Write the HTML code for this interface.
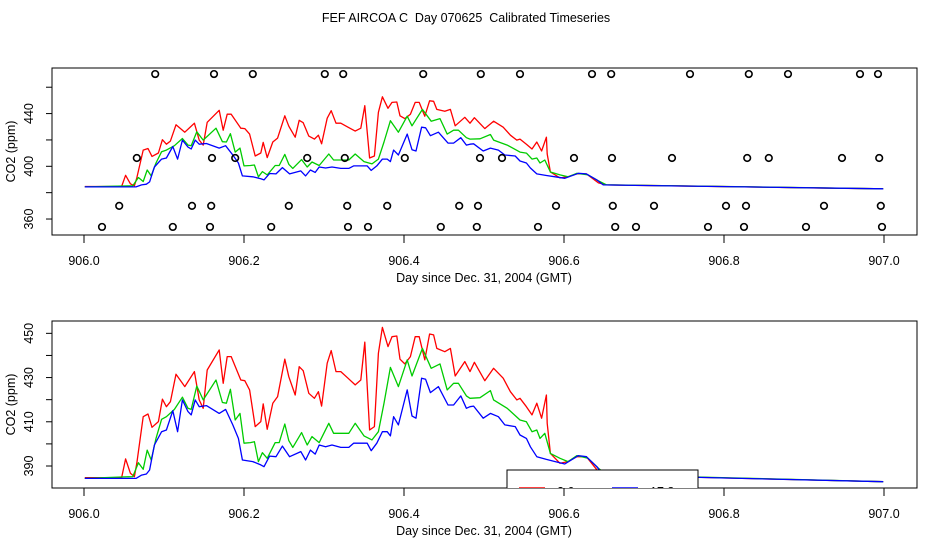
<!DOCTYPE html>
<html><head><meta charset="utf-8">
<style>
html,body{margin:0;padding:0;background:#fff;}
svg{display:block;font-family:"Liberation Sans",sans-serif;}
</style></head>
<body>
<svg id="chart" width="936" height="540" viewBox="0 0 936 540" xmlns="http://www.w3.org/2000/svg">
<text x="466" y="22" font-size="12.5" text-anchor="middle" style="white-space:pre" xml:space="preserve">FEF AIRCOA C  Day 070625  Calibrated Timeseries</text>
<g id="top"></g>
<g id="bot"></g>
</svg>
<script>
const redDays=[0.001,0.047,0.052,0.058,0.063,0.066,0.074,0.080,0.085,0.093,0.098,0.103,0.108,0.115,0.126,0.138,0.144,0.149,0.154,0.169,0.174,0.179,0.184,0.196,0.201,0.207,0.214,0.221,0.224,0.229,0.236,0.242,0.251,0.256,0.264,0.269,0.274,0.281,0.288,0.293,0.297,0.304,0.309,0.315,0.321,0.330,0.339,0.346,0.351,0.357,0.363,0.368,0.373,0.380,0.385,0.391,0.395,0.401,0.408,0.414,0.419,0.426,0.432,0.437,0.441,0.451,0.458,0.464,0.476,0.4825,0.488,0.501,0.512,0.524,0.533,0.541,0.545,0.553,0.560,0.566,0.572,0.578,0.579,0.583,0.595,0.605,0.616,0.628,0.643,0.653,0.778,0.903,0.999];
const redPpm=[384.7,384.7,393.2,386.7,385.2,391.2,412.3,413.5,407.5,410.1,420.2,416.8,419.1,431.5,425.9,432.7,419.9,416.1,433.4,442.5,427.4,439.5,439.5,428.9,428.6,424.4,407.8,410.1,418.1,406.6,418.4,421.4,438.3,430.4,422.1,434.9,433.1,422.9,420.6,423.6,417.1,436.5,442.2,432.7,432.7,429.7,426.7,428.9,446.0,406.3,407.8,441.0,452.7,444.0,448.5,448.8,438.3,436.2,439.5,448.5,448.5,438.0,449.7,449.3,443.2,441.7,443.2,430.7,437.2,432.7,436.9,428.6,434.2,429.7,423.6,419.9,420.6,416.8,413.1,418.4,411.6,422.1,409.3,395.7,391.2,392.0,394.2,394.2,387.4,385.9,384.8,383.7,382.9];
const greenDays=[0.001,0.061,0.068,0.074,0.079,0.084,0.090,0.097,0.103,0.113,0.123,0.130,0.134,0.141,0.149,0.165,0.173,0.178,0.183,0.189,0.195,0.200,0.208,0.213,0.218,0.223,0.229,0.239,0.244,0.251,0.256,0.261,0.272,0.279,0.285,0.294,0.306,0.312,0.331,0.339,0.350,0.360,0.368,0.375,0.383,0.393,0.404,0.410,0.423,0.434,0.445,0.454,0.462,0.468,0.478,0.4825,0.495,0.508,0.512,0.529,0.545,0.553,0.560,0.566,0.570,0.576,0.583,0.595,0.605,0.616,0.630,0.643,0.653,0.999];
const greenPpm=[384.4,385.2,391.5,388.5,397.2,392.7,402.5,411.1,412.3,415.6,421.1,416.1,415.6,426.2,419.9,428.9,418.7,418.4,424.7,410.8,413.8,400.3,400.6,401.0,392.0,396.0,393.5,400.6,400.6,409.0,401.5,398.4,405.1,399.5,403.3,400.6,409.3,404.8,404.8,409.3,403.6,401.8,405.5,418.4,434.6,425.9,438.0,430.7,443.2,434.2,436.2,424.4,427.4,427.4,421.7,420.6,420.9,424.1,419.9,416.1,410.8,410.0,405.5,406.3,402.5,404.8,395.7,393.5,392.0,394.7,393.5,389.0,386.0,382.9];
const blueDays=[0.001,0.065,0.072,0.078,0.082,0.088,0.097,0.103,0.111,0.117,0.123,0.130,0.134,0.139,0.144,0.153,0.169,0.177,0.186,0.193,0.198,0.211,0.221,0.225,0.232,0.240,0.248,0.257,0.271,0.277,0.283,0.289,0.294,0.302,0.310,0.321,0.331,0.337,0.354,0.359,0.366,0.373,0.379,0.383,0.387,0.393,0.404,0.410,0.415,0.422,0.427,0.433,0.443,0.455,0.462,0.471,0.478,0.4825,0.487,0.499,0.508,0.518,0.526,0.539,0.545,0.553,0.558,0.566,0.578,0.589,0.601,0.618,0.628,0.641,0.649,0.999];
const bluePpm=[384.4,384.4,385.9,386.4,388.2,399.5,405.5,406.3,415.0,405.5,419.9,414.6,413.1,419.9,416.8,417.3,413.8,415.6,408.6,402.5,392.7,392.0,390.5,389.7,394.5,394.2,399.0,394.2,396.5,392.7,397.2,395.4,399.5,398.7,399.5,398.4,398.4,400.3,400.3,396.9,400.3,405.5,405.5,403.6,412.3,408.6,424.4,412.6,411.6,429.7,429.2,423.2,425.9,417.6,417.6,421.7,416.1,416.8,417.1,411.6,413.8,412.3,408.6,407.8,404.0,402.5,398.7,394.2,393.0,392.0,390.9,394.7,394.2,389.7,385.9,382.9];
const circleRow1=[0.089,0.1625,0.211,0.301,0.324,0.424,0.496,0.545,0.635,0.659,0.7575,0.831,0.88,0.97,0.9925];
const circleRow2=[0.066,0.16,0.189,0.279,0.326,0.401,0.495,0.5225,0.6125,0.66,0.735,0.829,0.856,0.9475,0.994];
const circleRow3=[0.044,0.135,0.159,0.256,0.329,0.379,0.469,0.4925,0.59,0.661,0.7125,0.8025,0.8275,0.925,0.996];
const circleRow4=[0.0225,0.111,0.1575,0.234,0.33,0.355,0.446,0.491,0.5675,0.664,0.69,0.78,0.825,0.9025,0.9975];
const circleLevels=[470,406.3,370,354];
const xTicks=[906.0,906.2,906.4,906.6,906.8,907.0];
const topYTicks=[360,380,400,420,440,460];
const topYLabels=[360,400,440];
const botYTicks=[390,400,410,420,430,440,450];
const botYLabels=[390,410,430,450];

const NS="http://www.w3.org/2000/svg";
function mk(parent,tag,attrs){const e=document.createElementNS(NS,tag);for(const k in attrs)e.setAttribute(k,attrs[k]);parent.appendChild(e);return e;}
const xs=d=>84+800*d;

function panel(g,top,bottom,yref,yrefPx,pxPer,yTicks,yLabels,showCircles,legend,pfx){
  const ys=v=>yrefPx-(v-yref)*pxPer;
  const clipId=pfx+'clip';
  const defs=mk(g,'defs',{});
  const cp=mk(defs,'clipPath',{id:clipId});
  mk(cp,'rect',{x:52,y:top,width:865,height:bottom-top});
  const box=mk(g,'rect',{x:52,y:top,width:865,height:bottom-top,fill:'none',stroke:'#000','stroke-width':1});
  
  
  xTicks.forEach(t=>{
    const x=xs(t-906);
    const l=mk(g,'line',{x1:x,x2:x,y1:bottom,y2:bottom+8,stroke:'#000'});
    
    
    const tx=mk(g,'text',{x:x,y:bottom+30,'font-size':12.5,'text-anchor':'middle'});
    tx.textContent=t.toFixed(1);
    
    
  });
  yTicks.forEach(t=>{
    const y=ys(t);
    const l=mk(g,'line',{x1:46,x2:52,y1:y,y2:y,stroke:'#000'});
    
    
  });
  yLabels.forEach(t=>{
    const y=ys(t);
    const tx=mk(g,'text',{x:0,y:0,'font-size':12.5,'text-anchor':'middle',transform:`translate(33,${y}) rotate(-90)`});
    tx.textContent=t;
    
    
  });
  const yt=mk(g,'text',{x:0,y:0,'font-size':12.5,'text-anchor':'middle',transform:`translate(15,${(top+bottom)/2}) rotate(-90)`});
  yt.textContent='CO2 (ppm)';
  
  
  const xt=mk(g,'text',{x:484,y:bottom+47,'font-size':12.5,'text-anchor':'middle'});
  xt.textContent='Day since Dec. 31, 2004 (GMT)';
  
  
  const pg=mk(g,'g',{'clip-path':`url(#${clipId})`});
  [[redDays,redPpm,'#ff0000','series-2-6m'],[greenDays,greenPpm,'#00cc00','series-mid'],[blueDays,bluePpm,'#0000ff','series-17-8m']].forEach(s=>{
    const pts=s[0].map((d,i)=>xs(d).toFixed(1)+','+ys(s[1][i]).toFixed(1)).join(' ');
    const pl=mk(pg,'polyline',{points:pts,fill:'none',stroke:s[2],'stroke-width':1.3,'stroke-linejoin':'round'});
    
    
  });
  if(showCircles){
    [circleRow1,circleRow2,circleRow3,circleRow4].forEach((row,ri)=>{
      row.forEach(d=>{
        const c=mk(pg,'circle',{cx:xs(d),cy:ys(circleLevels[ri]),r:3.3,fill:'none',stroke:'#000','stroke-width':1.6});
        
        
      });
    });
  }
  if(legend){
    const lg=mk(g,'g',{'clip-path':`url(#${clipId})`});
    
    
    mk(lg,'rect',{x:507,y:470,width:191,height:40,fill:'#fff',stroke:'#000'});
    mk(lg,'line',{x1:519,x2:545,y1:488,y2:488,stroke:'#ff0000','stroke-width':1.6});
    const t1=mk(lg,'text',{x:557,y:496,'font-size':12.5});t1.textContent='2.6 m';
    
    
    mk(lg,'line',{x1:612,x2:638,y1:488,y2:488,stroke:'#0000ff','stroke-width':1.6});
    const t2=mk(lg,'text',{x:650,y:496,'font-size':12.5});t2.textContent='17.8 m';
    
    
  }
}
panel(document.getElementById('top'),68,235,400,166.3,1.318,topYTicks,topYLabels,true,false,'t');
panel(document.getElementById('bot'),321,488,390,466,2.211,botYTicks,botYLabels,false,true,'b');
</script>
</body></html>
